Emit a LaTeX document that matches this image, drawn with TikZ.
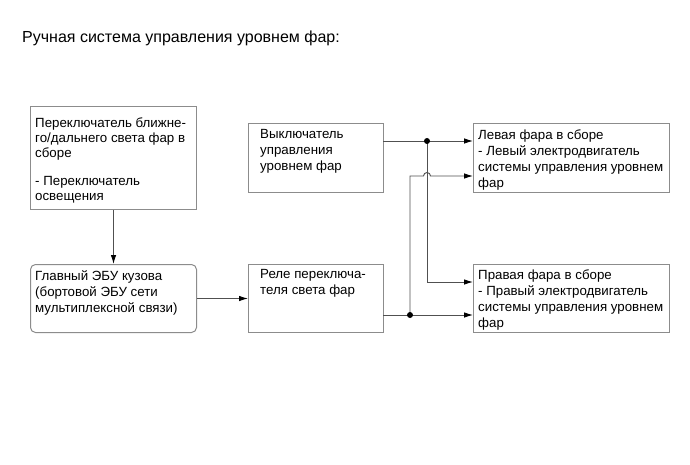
\documentclass[tikz,border=0pt]{standalone}
\usepackage{fontspec}
\setmainfont{Liberation Sans}
\usetikzlibrary{arrows.meta}
\definecolor{boxgray}{HTML}{8C8C8C}
\definecolor{linegray}{HTML}{505050}
\begin{document}
\begin{tikzpicture}[x=1pt,y=-1pt,
  box/.style={draw=boxgray, line width=1pt, inner sep=0pt, anchor=north west},
  txt/.style={anchor=north west, inner sep=0pt, align=left, font=\fontsize{13.3}{16}\selectfont},
  wire/.style={draw=linegray, line width=0.9pt},
  arr/.style={wire, -{Latex[length=9pt,width=5.5pt,black]}},
  dot/.style={circle, fill=black, inner sep=0pt, minimum size=6pt}]
\useasboundingbox (0,0) rectangle (690,465);
\fill[white] (0,0) rectangle (690,465);

% title
\node[anchor=base west, inner sep=0pt, font=\fontsize{16}{19}\selectfont] (title) at (22,43) {Ручная система управления уровнем фар:};

% boxes
\node[box, minimum width=166pt, minimum height=103pt] (b1) at (30,106) {};
\node[box, rounded corners=5pt, minimum width=166pt, minimum height=68pt] (b2) at (30,264) {};
\node[box, minimum width=135pt, minimum height=69pt] (b3) at (248,123) {};
\node[box, minimum width=135pt, minimum height=68pt] (b4) at (248,264) {};
\node[box, minimum width=196pt, minimum height=69pt] (b5) at (473,123) {};
\node[box, minimum width=196pt, minimum height=68pt] (b6) at (473,264) {};

% texts
\node[txt, font=\fontsize{13.3}{15}\selectfont] (t1) at (35,117.5) {Переключатель ближне-\\го/дальнего света фар в\\сборе\\[13pt]- Переключатель\\освещения};
\node[txt] (t2) at (35,270.5) {Главный ЭБУ кузова\\(бортовой ЭБУ сети\\мультиплексной связи)};
\node[txt] (t3) at (260,129.5) {Выключатель\\управления\\уровнем фар};
\node[txt] (t4) at (260,269.5) {Реле переключа-\\теля света фар};
\node[txt] (t5) at (478,129.5) {Левая фара в сборе\\- Левый электродвигатель\\системы управления уровнем\\фар};
\node[txt] (t6) at (478,269.5) {Правая фара в сборе\\- Правый электродвигатель\\системы управления уровнем\\фар};

% connection points
\coordinate (s3) at (383,141);
\coordinate (j1) at (427,141);
\coordinate (e5a) at (473,141);
\coordinate (e5b) at (473,176);
\coordinate (k1) at (410,176);
\coordinate (h1) at (423.5,176);
\coordinate (e6a) at (473,282);
\coordinate (k2) at (427,282);
\coordinate (s4) at (383,315);
\coordinate (j2) at (410,315);
\coordinate (e6b) at (473,315);

% connectors
\draw[arr] (b1.south) -- (b2.north);
\draw[arr] (b2.east) -- (b2.east -| b4.west);
\draw[wire] (s3) -- (j1);
\draw[arr] (j1) -- (e5a);
\draw[arr] (j1) -- (k2) -- (e6a);
\draw[wire] (s4) -- (j2);
\draw[arr] (j2) -- (e6b);
\draw[arr] (j2) -- (k1) -- (h1) arc[start angle=180, end angle=0, radius=3.5pt] -- (e5b);
\node[dot] (d1) at (j1) {};
\node[dot] (d2) at (j2) {};
\end{tikzpicture}
\end{document}
